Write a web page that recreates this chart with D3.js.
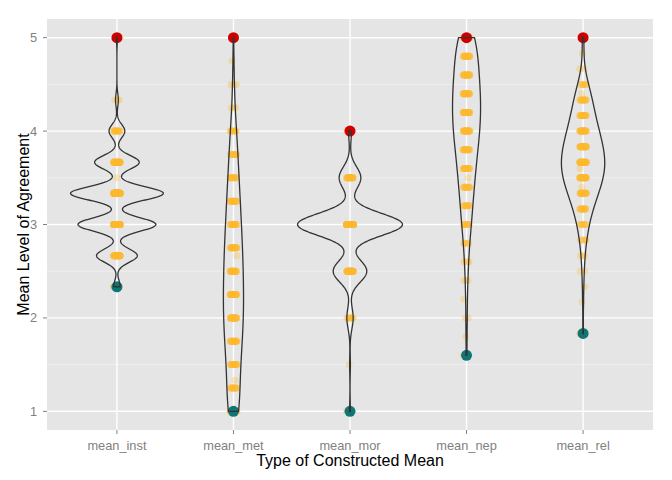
<!DOCTYPE html>
<html lang="en">
<head>
  <meta charset="utf-8" />
  <title>Violin plot of constructed means</title>
  <script src="https://cdn.jsdelivr.net/npm/d3@7"></script>
  <style>
    body { margin: 0; background: #fff; }
    text { font-family: "Liberation Sans", Arial, sans-serif; }
  </style>
</head>
<body>
<script>
  // categories along the x axis
  var categories = ["mean_inst", "mean_met", "mean_mor", "mean_nep", "mean_rel"];

  var instValues = [7/3, 8/3, 3, 10/3, 3.5, 11/3, 4, 13/3, 5];
  var instCounts = [7, 44, 84, 100, 1, 48, 17, 3, 1];

  var metValues = [1, 1.25, 4/3, 1.5, 1.75, 2, 2.25, 2.5, 8/3, 2.75, 3, 3.25, 3.5, 3.75, 4, 4.25, 4.5, 4.75, 5];
  var metCounts = [24, 16, 1, 20, 26, 30, 30, 28, 1, 26, 23, 20, 16, 13, 10, 3, 3, 1, 1];

  var morValues = [1, 1.5, 2, 2.5, 3, 3.5, 4];
  var morCounts = [1, 1, 9, 48, 150, 31, 4];

  var nepValues = [1.6, 1.8, 2, 2.2, 2.4, 2.6, 2.8, 3, 3.2, 3.4, 3.5, 3.6, 3.8, 4, 4.2, 4.4, 4.6, 4.8, 5];
  var nepCounts = [1, 1, 2, 1, 3, 4, 6, 11, 13, 16, 1, 19, 24, 29, 31, 30, 27, 24, 24];

  var relValues = [11/6, 13/6, 14/6, 15/6, 16/6, 17/6, 3, 19/6, 20/6, 3.4, 21/6, 3.6, 22/6, 23/6, 4, 25/6, 26/6, 4.4, 27/6, 28/6, 29/6, 5];
  var relCounts = [1, 1, 1, 2, 3, 6, 10, 17, 26, 1, 35, 1, 39, 35, 28, 21, 16, 1, 9, 2, 1, 2];

  var yTicks = [1, 2, 3, 4, 5];

  var groups = [
    {name: categories[0], values: instValues, counts: instCounts},
    {name: categories[1], values: metValues, counts: metCounts},
    {name: categories[2], values: morValues, counts: morCounts},
    {name: categories[3], values: nepValues, counts: nepCounts},
    {name: categories[4], values: relValues, counts: relCounts}
  ];

  var w = 672, h = 480;
  var pLeft = 47, pRight = 653, pTop = 19, pBottom = 430;

  var svg = d3.select("body").append("svg")
      .attr("width", w)
      .attr("height", h);

  var x = d3.scalePoint().domain(categories).range([pLeft, pRight]).padding(0.6);
  var y = d3.scaleLinear().domain([0.8, 5.2]).range([pBottom, pTop]);

  // panel + grid
  svg.append("rect")
      .attr("x", pLeft).attr("y", pTop)
      .attr("width", pRight - pLeft).attr("height", pBottom - pTop)
      .attr("fill", "#E5E5E5");

  svg.selectAll("line.minor")
      .data([1.5, 2.5, 3.5, 4.5])
      .enter().append("line")
      .attr("x1", pLeft).attr("x2", pRight)
      .attr("y1", function(d) { return y(d); })
      .attr("y2", function(d) { return y(d); })
      .attr("stroke", "#F2F2F2")
      .attr("stroke-width", 0.7);

  svg.selectAll("line.majorY")
      .data(yTicks)
      .enter().append("line")
      .attr("x1", pLeft).attr("x2", pRight)
      .attr("y1", function(d) { return y(d); })
      .attr("y2", function(d) { return y(d); })
      .attr("stroke", "#FFFFFF")
      .attr("stroke-width", 1.4);

  svg.selectAll("line.majorX")
      .data(categories)
      .enter().append("line")
      .attr("y1", pTop).attr("y2", pBottom)
      .attr("x1", function(d) { return x(d); })
      .attr("x2", function(d) { return x(d); })
      .attr("stroke", "#FFFFFF")
      .attr("stroke-width", 1.4);

  // expand counts into raw observations
  groups.forEach(function(g) {
    var obs = [];
    g.values.forEach(function(v, i) {
      for (var k = 0; k < g.counts[i]; k++) obs.push(v);
    });
    g.obs = obs;
  });

  // R's bw.nrd0
  function bwNrd0(obs) {
    var s = obs.slice().sort(d3.ascending);
    var hi = d3.deviation(s);
    var lo = Math.min(hi, (d3.quantile(s, 0.75) - d3.quantile(s, 0.25)) / 1.34);
    if (!lo) lo = hi || Math.abs(s[0]) || 1;
    return 0.9 * lo * Math.pow(s.length, -0.2);
  }

  // gaussian kernel density, trimmed to the data range
  groups.forEach(function(g) {
    var bw = bwNrd0(g.obs);
    var n = g.obs.length;
    var lo = d3.min(g.values), hi = d3.max(g.values);
    var pts = [];
    for (var j = 0; j < 512; j++) {
      var t = lo + (hi - lo) * j / 511;
      var s = 0;
      g.values.forEach(function(v, i) {
        var z = (t - v) / bw;
        s += g.counts[i] * Math.exp(-0.5 * z * z);
      });
      pts.push({y: t, d: s / (n * bw * Math.sqrt(2 * Math.PI))});
    }
    g.dens = pts;
    g.min = lo;
    g.max = hi;
  });

  var maxDens = d3.max(groups, function(g) { return d3.max(g.dens, function(p) { return p.d; }); });
  var halfW = d3.scaleLinear().domain([0, maxDens]).range([0, 0.45 * x.step()]);

  // jittered observations
  var jit = [];
  groups.forEach(function(g) {
    g.values.forEach(function(v, i) {
      for (var k = 0; k < g.counts[i]; k++) {
        var off = ((k * 0.618034 + i * 0.37) % 1) - 0.5;
        jit.push({name: g.name, v: v, off: off});
      }
    });
  });

  svg.selectAll("circle.jit")
      .data(jit)
      .enter().append("circle")
      .attr("cx", function(d) { return x(d.name) + d.off * 7; })
      .attr("cy", function(d) { return y(d.v); })
      .attr("r", 3.5)
      .attr("fill", "#FFB82E")
      .attr("fill-opacity", 0.3);

  // max (red) and min (teal)
  svg.selectAll("circle.max")
      .data(groups)
      .enter().append("circle")
      .attr("cx", function(d) { return x(d.name); })
      .attr("cy", function(d) { return y(d.max); })
      .attr("r", 5.5)
      .attr("fill", "#CC0000");

  svg.selectAll("circle.min")
      .data(groups)
      .enter().append("circle")
      .attr("cx", function(d) { return x(d.name); })
      .attr("cy", function(d) { return y(d.min); })
      .attr("r", 5.5)
      .attr("fill", "#107575");

  // violins
  var line = d3.line()
      .x(function(p) { return p[0]; })
      .y(function(p) { return p[1]; });

  svg.selectAll("path.violin")
      .data(groups)
      .enter().append("path")
      .attr("d", function(g) {
        var cx = x(g.name);
        var rightSide = g.dens.map(function(p) { return [cx + halfW(p.d), y(p.y)]; });
        var leftSide = g.dens.slice().reverse().map(function(p) { return [cx - halfW(p.d), y(p.y)]; });
        return line(rightSide.concat(leftSide)) + "Z";
      })
      .attr("fill", "none")
      .attr("stroke", "#333333")
      .attr("stroke-width", 1.3);

  // axes
  svg.selectAll("line.yTick")
      .data(yTicks)
      .enter().append("line")
      .attr("x1", pLeft - 4).attr("x2", pLeft)
      .attr("y1", function(d) { return y(d); })
      .attr("y2", function(d) { return y(d); })
      .attr("stroke", "#7F7F7F")
      .attr("stroke-width", 1);

  svg.selectAll("text.yTick")
      .data(yTicks)
      .enter().append("text")
      .text(function(d) { return d; })
      .attr("x", pLeft - 10)
      .attr("y", function(d) { return y(d); })
      .attr("dy", "0.35em")
      .attr("text-anchor", "end")
      .attr("font-size", "12.8px")
      .attr("fill", "#7F7F7F");

  svg.selectAll("line.xTick")
      .data(categories)
      .enter().append("line")
      .attr("y1", pBottom).attr("y2", pBottom + 4)
      .attr("x1", function(d) { return x(d); })
      .attr("x2", function(d) { return x(d); })
      .attr("stroke", "#7F7F7F")
      .attr("stroke-width", 1);

  svg.selectAll("text.xTick")
      .data(categories)
      .enter().append("text")
      .text(function(d) { return d; })
      .attr("x", function(d) { return x(d); })
      .attr("y", 450)
      .attr("text-anchor", "middle")
      .attr("font-size", "12.8px")
      .attr("fill", "#7F7F7F");

  svg.append("text")
      .text("Type of Constructed Mean")
      .attr("x", (pLeft + pRight) / 2)
      .attr("y", 466)
      .attr("text-anchor", "middle")
      .attr("font-size", "16px")
      .attr("fill", "#000");

  svg.append("text")
      .text("Mean Level of Agreement")
      .attr("transform", "translate(29," + ((pTop + pBottom) / 2) + ") rotate(-90)")
      .attr("text-anchor", "middle")
      .attr("font-size", "16px")
      .attr("fill", "#000");
</script>
</body>
</html>
